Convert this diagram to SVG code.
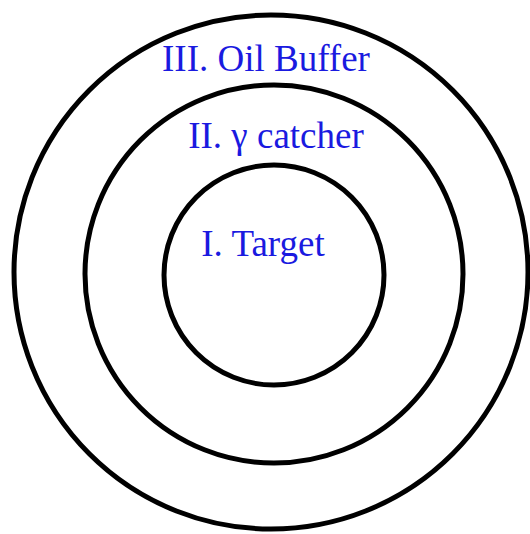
<svg xmlns="http://www.w3.org/2000/svg" width="530" height="534" viewBox="0 0 530 534">
<style>
.ring{fill:none;stroke:#000;stroke-width:5}
.lbl{font-family:"Liberation Serif","Times New Roman",serif;font-size:37px;fill:#1a1ae0;text-anchor:middle}
</style>
<rect width="530" height="534" fill="#fff"/>
<g id="outer"><circle class="ring" cx="271" cy="272" r="257"/><text class="lbl" x="266" y="71">III. Oil Buffer</text></g>
<g id="middle"><circle class="ring" cx="274" cy="274" r="189"/><text class="lbl" x="276" y="148">II. γ catcher</text></g>
<g id="inner"><circle class="ring" cx="274" cy="275" r="110"/><text class="lbl" x="263" y="256">I. Target</text></g>
<g id="connectors"/>
</svg>
